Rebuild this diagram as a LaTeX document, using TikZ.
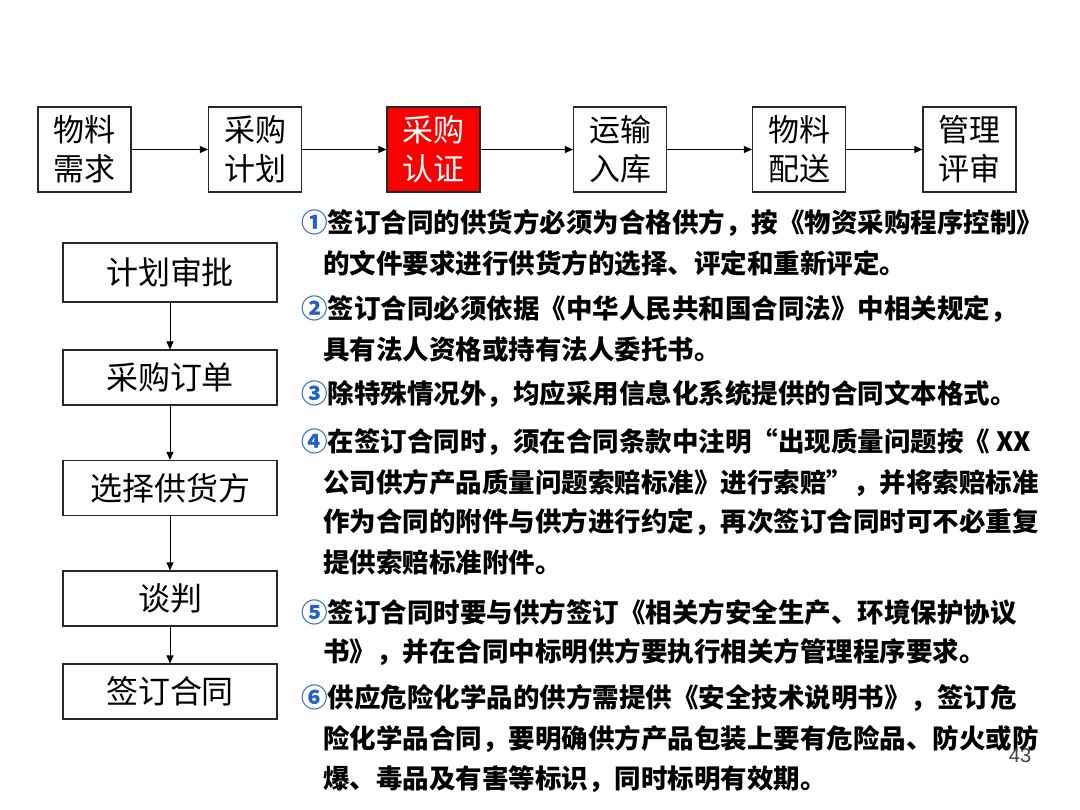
\documentclass[tikz,border=0pt]{standalone}
\usepackage{fontspec}
\usepackage{xcolor}
\usetikzlibrary{arrows.meta,positioning}
\setmainfont{Liberation Sans}
\newfontfamily\cjk{Noto Sans CJK SC}
\definecolor{certred}{RGB}{250,0,0}
\definecolor{numblue}{RGB}{35,95,200}
\definecolor{edge}{RGB}{40,40,40}
\tikzset{
  stage/.style  ={draw=edge, line width=1.2pt, minimum width=93pt, minimum height=85pt, inner sep=0pt,
                  align=center, font=\cjk\fontsize{31}{39}\selectfont},
  hot/.style    ={stage, fill=certred, text=white},
  stepbox/.style={draw=edge, line width=1.2pt, minimum width=214pt, minimum height=55pt, inner sep=0pt,
                  font=\cjk\fontsize{32}{36}\selectfont},
  flow/.style   ={-{Triangle[length=8pt,width=7pt]}, line width=0.9pt},
  note/.style   ={anchor=west, inner sep=0pt, font=\cjk\bfseries\fontsize{26.5}{26.5}\selectfont}
}
\newcommand{\nr}[1]{\textcolor{numblue}{#1}}

\begin{document}
\begin{tikzpicture}[x=1pt, y=-1pt]
  \useasboundingbox (0,0) rectangle (1080,810);
  % main chain
  \node[stage] (need) at (84.5,149.5) {物料\\需求};
  \node[stage] (plan) at (255,149.5)  {采购\\计划};
  \node[hot]   (cert) at (433.5,149.5) {采购\\认证};
  \node[stage] (ship) at (620,149.5)  {运输\\入库};
  \node[stage] (dist) at (799,149.5)  {物料\\配送};
  \node[stage] (rev)  at (969.5,149.5) {管理\\评审};
  \draw[flow] (need) -- (plan);
  \draw[flow] (plan) -- (cert);
  \draw[flow] (cert) -- (ship);
  \draw[flow] (ship) -- (dist);
  \draw[flow] (dist) -- (rev);
  % certification steps
  \node[stepbox, minimum height=59pt] (appr) at (170,272.5) {计划审批};
  \node[stepbox] (order) at (170,377.5) {采购订单};
  \node[stepbox] (pick)  at (170,488)   {选择供货方};
  \node[stepbox] (talk)  at (170,598.5) {谈判};
  \node[stepbox] (sign)  at (170,691.5) {签订合同};
  \draw[flow] (appr) -- (order);
  \draw[flow] (order) -- (pick);
  \draw[flow] (pick) -- (talk);
  \draw[flow] (talk) -- (sign);
  % notes
  \node[note] (n1a) at (301,223) {\nr{①}签订合同的供货方必须为合格供方，按《物资采购程序控制》};
  \node[note] (n1b) at (323,263) {的文件要求进行供货方的选择、评定和重新评定。};
  \node[note] (n2a) at (301,309) {\nr{②}签订合同必须依据《中华人民共和国合同法》中相关规定，};
  \node[note] (n2b) at (323,350) {具有法人资格或持有法人委托书。};
  \node[note] (n3a) at (301,394) {\nr{③}除特殊情况外，均应采用信息化系统提供的合同文本格式。};
  \node[note] (n4a) at (301,442) {\nr{④}在签订合同时，须在合同条款中注明“出现质量问题按《 XX};
  \node[note] (n4b) at (323,483) {公司供方产品质量问题索赔标准》进行索赔”，并将索赔标准};
  \node[note] (n4c) at (323,522) {作为合同的附件与供方进行约定，再次签订合同时可不必重复};
  \node[note] (n4d) at (323,563) {提供索赔标准附件。};
  \node[note] (n5a) at (301,612) {\nr{⑤}签订合同时要与供方签订《相关方安全生产、环境保护协议};
  \node[note] (n5b) at (323,652) {书》，并在合同中标明供方要执行相关方管理程序要求。};
  \node[note] (n6a) at (301,698) {\nr{⑥}供应危险化学品的供方需提供《安全技术说明书》，签订危};
  \node[note] (n6b) at (323,739) {险化学品合同，要明确供方产品包装上要有危险品、防火或防};
  \node[note] (n6c) at (323,779) {爆、毒品及有害等标识，同时标明有效期。};
  \node[font=\fontsize{20}{20}\selectfont, text=black!75] (pg) at (1020,756) {43};
\end{tikzpicture}
\end{document}
